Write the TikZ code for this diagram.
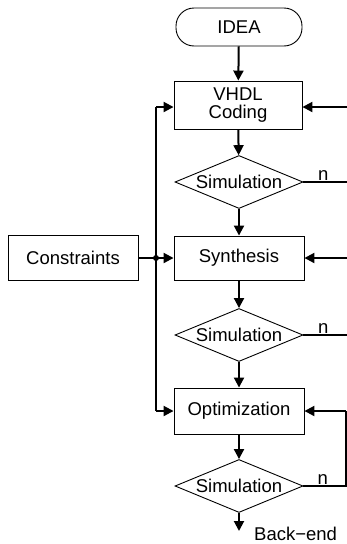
\documentclass[tikz,border=0pt]{standalone}
\usepackage{fontspec}
\setmainfont{Liberation Sans}
\usetikzlibrary{shapes.geometric,arrows.meta}
\begin{document}
\begin{tikzpicture}[x=1pt,y=-1pt,
  font=\fontsize{18.5}{21}\selectfont,
  box/.style={draw,line width=0.9pt,minimum width=128pt,minimum height=46pt,inner sep=1pt,align=center},
  term/.style={draw,line width=0.9pt,minimum width=126pt,minimum height=38pt,rounded corners=18pt},
  dia/.style={draw,diamond,line width=0.9pt,minimum width=128pt,minimum height=53pt,inner sep=0pt},
  con/.style={line width=2pt},
  arr/.style={con,-{Triangle[length=10pt,width=10pt]}}]
\useasboundingbox (0,0) rectangle (346,544);
\node[term] (idea) at (239,27) {IDEA};
\node[box,minimum height=48pt] (vhdl) at (238,105) {VHDL\\[-3pt]Coding};
\node[dia] (s1) at (239,182) {};
\node at (s1) {Simulation};
\node[box,minimum width=130pt,minimum height=44pt] (syn) at (239,258) {Synthesis};
\node[dia] (s2) at (239,335) {};
\node at (s2) {Simulation};
\node[box,minimum width=130pt,minimum height=46pt] (opt) at (239,411) {Optimization};
\node[dia] (s3) at (239,486) {};
\node at (s3) {Simulation};
\node[box,minimum width=130pt,minimum height=45pt] (cons) at (73,258) {Constraints};
% main flow
\draw[arr] (idea) -- (vhdl);
\draw[arr] (vhdl) -- (s1);
\draw[arr] (s1) -- (syn);
\draw[arr] (syn) -- (s2);
\draw[arr] (s2) -- (opt);
\draw[arr] (opt) -- (s3);
\coordinate (be) at (239,531);
\draw[arr] (s3.south) -- (be);
\node[anchor=base west,inner sep=0pt] (belab) at (254,540) {Back{\char"2212}end};
% left bus
\coordinate (bt) at (156,107);
\coordinate (bj) at (156,258);
\coordinate (bb) at (156,411);
\draw[con] (bt) -- (bb);
\draw[arr] (bt) -- (vhdl.west |- bt);
\draw[arr] (bb) -- (opt.west);
\draw[con] (cons.east) -- (bj);
\fill (bj) circle (3pt);
\draw[arr] (bj) -- (syn.west);
% right feedback
\coordinate (r1) at (347.5,182);
\coordinate (r1t) at (347.5,107);
\draw[con] (s1.east) -- node[above,pos=0.45,inner sep=1pt] {n} (r1) -- (r1t);
\draw[arr] (r1t) -- (vhdl.east |- r1t);
\coordinate (r2) at (347.5,335);
\coordinate (r2t) at (347.5,258);
\draw[con] (s2.east) -- node[above,pos=0.45,inner sep=1pt] {n} (r2) -- (r2t);
\draw[arr] (r2t) -- (syn.east);
\coordinate (r3) at (346.4,486);
\coordinate (r3t) at (346.4,411);
\draw[con] (s3.east) -- node[above,pos=0.45,inner sep=1pt] {n} (r3) -- (r3t);
\draw[arr] (r3t) -- (opt.east);
\end{tikzpicture}
\end{document}
